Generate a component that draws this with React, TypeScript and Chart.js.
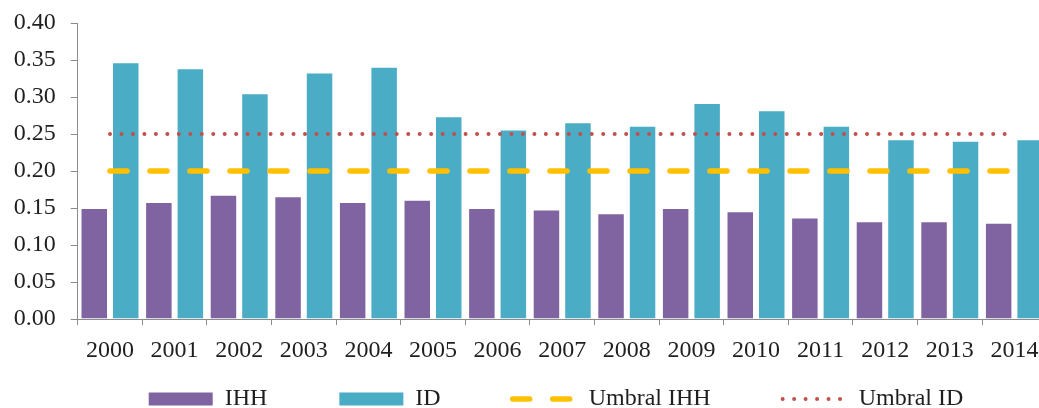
import React, { useEffect, useRef } from 'react';
import { Chart, registerables } from 'chart.js';

Chart.register(...registerables);

const years = ['2000', '2001', '2002', '2003', '2004', '2005', '2006', '2007', '2008', '2009', '2010', '2011', '2012', '2013', '2014'];
const ihh = [0.150, 0.158, 0.168, 0.166, 0.158, 0.161, 0.150, 0.148, 0.143, 0.150, 0.1455, 0.137, 0.132, 0.132, 0.130];
const idValues = [0.347, 0.339, 0.305, 0.333, 0.341, 0.274, 0.256, 0.266, 0.261, 0.292, 0.282, 0.261, 0.243, 0.241, 0.243];
const umbralIHH = [0.2, 0.2, 0.2, 0.2, 0.2, 0.2, 0.2, 0.2, 0.2, 0.2, 0.2, 0.2, 0.2, 0.2, 0.2];
const umbralID = [0.25, 0.25, 0.25, 0.25, 0.25, 0.25, 0.25, 0.25, 0.25, 0.25, 0.25, 0.25, 0.25, 0.25, 0.25];
const seriesNames = ['IHH', 'ID', 'Umbral IHH', 'Umbral ID'];

const PURPLE = '#8064A2';
const CYAN = '#4BACC6';
const ORANGE = '#FFC000';
const RED = '#C0504D';
const AXIS = '#8c8c8c';
const TEXT = '#1f1f1f';
const FONT = "'Times New Roman', 'Liberation Serif', serif";

const CANVAS_W = 1112;
const CANVAS_H = 421;

export default function App() {
  const ref = useRef<HTMLCanvasElement | null>(null);

  useEffect(() => {
    if (!ref.current) return;
    const spacer = '          ';
    const chart = new Chart(ref.current, {
      type: 'bar',
      data: {
        labels: years,
        datasets: [
          {
            type: 'bar',
            label: seriesNames[0],
            data: ihh,
            backgroundColor: PURPLE,
            borderColor: 'rgba(255,255,255,0.45)',
            borderWidth: 1,
            categoryPercentage: 0.975,
            barPercentage: 0.873,
            order: 2,
          },
          {
            type: 'bar',
            label: seriesNames[1],
            data: idValues,
            backgroundColor: CYAN,
            borderColor: 'rgba(255,255,255,0.45)',
            borderWidth: 1,
            categoryPercentage: 0.975,
            barPercentage: 0.873,
            order: 2,
          },
          {
            type: 'line',
            label: seriesNames[2],
            data: umbralIHH,
            borderColor: ORANGE,
            backgroundColor: ORANGE,
            borderWidth: 5.5,
            borderDash: [17, 23],
            borderCapStyle: 'round',
            pointRadius: 0,
            fill: false,
            order: 1,
          },
          {
            type: 'line',
            label: seriesNames[3],
            data: umbralID,
            borderColor: RED,
            backgroundColor: RED,
            borderWidth: 4,
            borderDash: [0, 11.47],
            borderCapStyle: 'round',
            pointRadius: 0,
            fill: false,
            order: 0,
          },
        ] as any,
      },
      options: {
        responsive: false,
        animation: false,
        devicePixelRatio: 1,
        layout: { padding: { top: 23, left: 0, right: 0, bottom: 0 } },
        font: { family: FONT, size: 24 } as any,
        plugins: {
          tooltip: { enabled: false },
          legend: {
            position: 'bottom',
            labels: {
              usePointStyle: true,
              pointStyleWidth: 64,
              boxHeight: 13,
              padding: 12,
              color: TEXT,
              font: { family: FONT, size: 24 },
              generateLabels: (c: any) =>
                c.data.datasets.map((ds: any, i: number) => {
                  const isLine = ds.type === 'line';
                  const last = i === c.data.datasets.length - 1;
                  return {
                    text: ds.label + (last ? '' : spacer),
                    fillStyle: ds.backgroundColor,
                    strokeStyle: isLine ? ds.borderColor : ds.backgroundColor,
                    lineWidth: isLine ? ds.borderWidth : 0,
                    lineDash: isLine ? ds.borderDash : [],
                    lineCap: isLine ? 'round' : 'butt',
                    pointStyle: isLine ? 'line' : 'rect',
                    hidden: false,
                    datasetIndex: i,
                    fontColor: TEXT,
                  };
                }),
            },
          },
        },
        scales: {
          x: {
            type: 'category',
            offset: true,
            grid: {
              display: true,
              offset: true,
              drawOnChartArea: false,
              drawTicks: true,
              tickLength: 6,
              color: AXIS,
              lineWidth: 1,
            },
            border: { display: true, color: AXIS, width: 1 },
            ticks: {
              color: TEXT,
              font: { family: FONT, size: 24 },
              padding: 11,
              maxRotation: 0,
              autoSkip: false,
            },
            afterFit: (s: any) => {
              s.height = 56;
              s.paddingLeft = 0;
              s.paddingRight = 0;
            },
          },
          y: {
            type: 'linear',
            position: 'left',
            min: 0,
            max: 0.4,
            ticks: {
              stepSize: 0.05,
              color: TEXT,
              font: { family: FONT, size: 24 },
              padding: 15,
              callback: (v: any) => Number(v).toFixed(2),
            },
            grid: {
              display: true,
              drawOnChartArea: false,
              drawTicks: true,
              tickLength: 7,
              color: AXIS,
              lineWidth: 1,
            },
            border: { display: true, color: AXIS, width: 1 },
            afterFit: (s: any) => {
              s.width = 77.7;
              s.paddingTop = 0;
              s.paddingBottom = 0;
            },
          },
          yRight: {
            type: 'linear',
            position: 'right',
            display: true,
            min: 0,
            max: 0.4,
            grid: { display: false, drawOnChartArea: false, drawTicks: false },
            border: { display: false },
            ticks: { display: false },
            afterFit: (s: any) => {
              s.width = CANVAS_W - 1046.7;
              s.paddingTop = 0;
              s.paddingBottom = 0;
            },
          },
        },
      } as any,
    });
    return () => chart.destroy();
  }, []);

  return (
    <div
      style={{
        position: 'absolute',
        left: 0,
        top: 0,
        width: 1039,
        height: 408,
        overflow: 'hidden',
        background: '#ffffff',
      }}
    >
      <canvas
        ref={ref}
        width={CANVAS_W}
        height={CANVAS_H}
        style={{ display: 'block', width: CANVAS_W, height: CANVAS_H }}
      />
    </div>
  );
}
